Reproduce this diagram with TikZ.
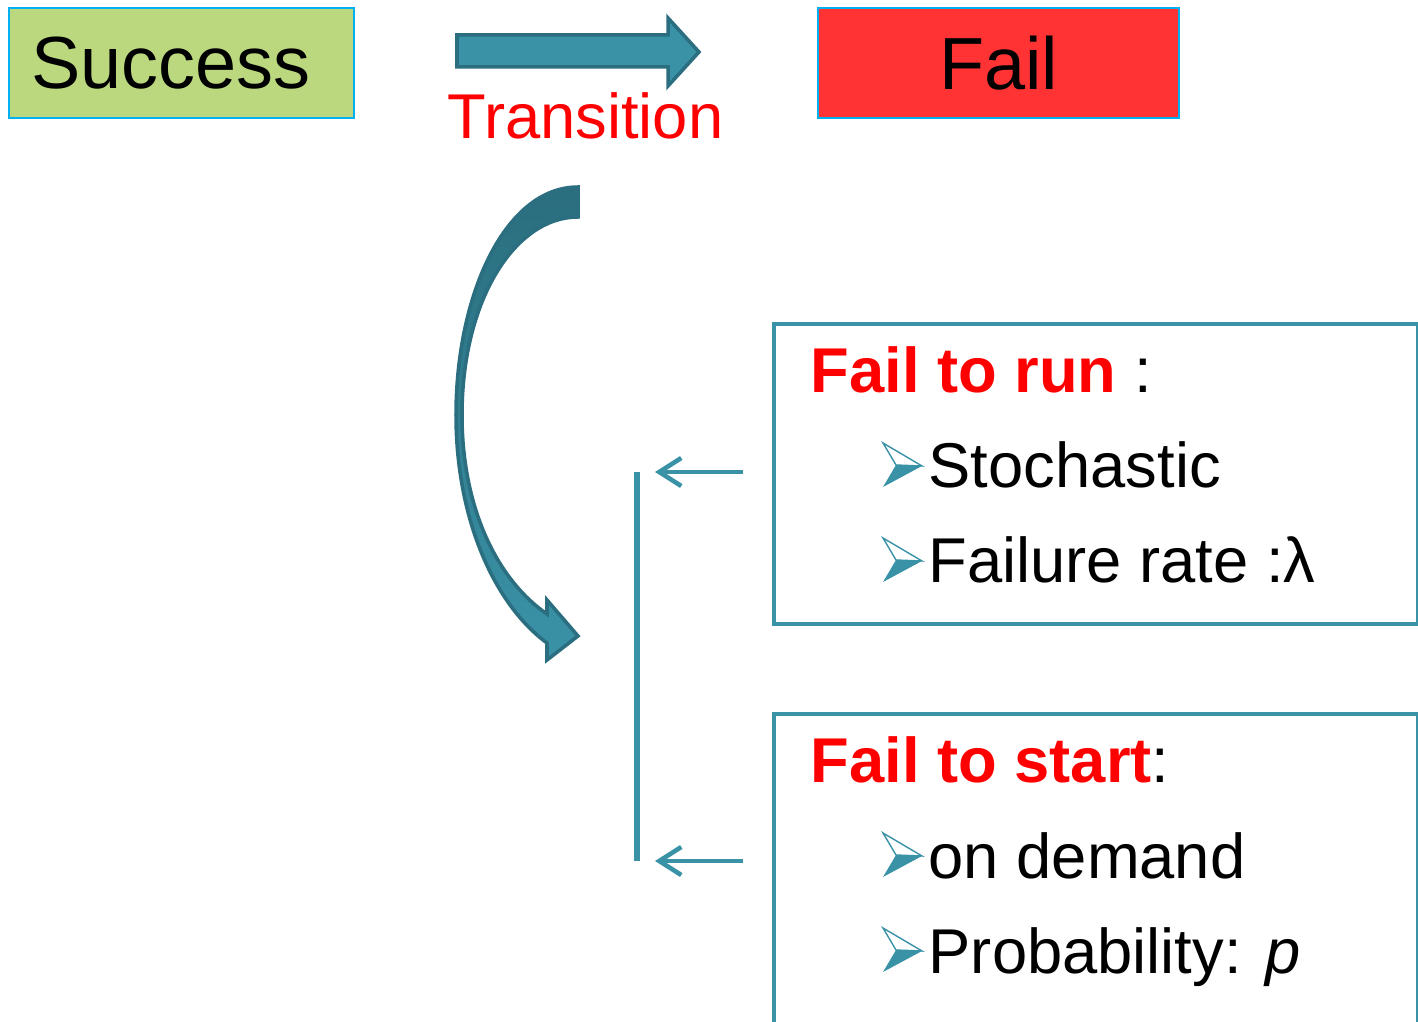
\documentclass[tikz,border=0pt]{standalone}
\usepackage{fontspec}
\setmainfont{Liberation Sans}
\usepackage{xcolor}
\usepackage{tikz}
\usetikzlibrary{arrows.meta}

\definecolor{boxgreen}{HTML}{BBD87E}
\definecolor{boxred}{HTML}{FF3333}
\definecolor{edgecyan}{HTML}{00B0F0}
\definecolor{teal}{HTML}{3A92A7}
\definecolor{tealdark}{HTML}{2A6E7F}
\definecolor{txtred}{HTML}{FF0000}

\tikzset{
	statebox/.style={draw=edgecyan, line width=0.6pt, anchor=north west, minimum height=1.1cm, inner ysep=0pt, font=\fontsize{21}{25}\selectfont},
	infobox/.style={draw=teal, line width=1.15pt, anchor=north west, minimum width=6.44cm},
	bigtext/.style={anchor=base west, inner sep=0pt, font=\fontsize{18}{22}\selectfont},
	backarrow/.style={draw=teal, line width=1.3pt, -{Straight Barb[length=2.2mm,width=2.8mm]}},
	bularrow/.pic={
		\draw[teal, line width=0.4pt, fill=white] (0,0) -- (39,23) -- (13,22) -- cycle;
		\fill[teal] (13,22) -- (39,23) -- (0,44) -- cycle;
	}
}

\begin{document}
\begin{tikzpicture}[x=0.01cm, y=-0.01cm]

	\clip (0,0) rectangle (1418,1022);

	\node[statebox, fill=boxgreen, text width=3.01cm, inner xsep=0.22cm] (success) at (8,7) {Success};
	\node[statebox, fill=boxred, minimum width=3.61cm] (fail) at (817,7) {Fail};

	\draw[fill=teal, draw=tealdark, line width=1pt] (457,35)--(668,35)--(668,18)--(699,52)--(668,86)--(668,67)--(457,67)--cycle;
	\node[bigtext, text=txtred] (transition) at (447,139) {Transition};

	\draw[top color=tealdark, bottom color=teal, draw=tealdark, line width=1pt]
		(578,187) .. controls (505,187) and (456,295) .. (456,415)
		.. controls (456,520) and (495,605) .. (547,643)
		-- (547,660) -- (578,636) -- (547,600) -- (547,614)
		.. controls (500,582) and (462,512) .. (462,415)
		.. controls (462,300) and (515,217) .. (578,217) -- cycle;

	\coordinate (bartop) at (637,472);
	\coordinate (barbot) at (637,861);
	\draw[teal, line width=1.6pt] (bartop) -- (barbot);

	\node[infobox, minimum height=3cm] (runbox) at (772,322) {};
	\node[infobox, minimum height=3.3cm] (startbox) at (772,712) {};

	\coordinate (runtail) at (743,472);
	\coordinate (runtip) at (655,472);
	\coordinate (starttail) at (743,861);
	\coordinate (starttip) at (655,861);
	\draw[backarrow] (runtail) -- (runtip);
	\draw[backarrow] (starttail) -- (starttip);

	\node[bigtext] (runhead) at (810,393) {\textcolor{txtred}{\textbf{Fail to run}} :};
	\pic at (883,443) {bularrow};
	\node[bigtext] (stoch) at (928,488) {Stochastic};
	\pic at (883,538) {bularrow};
	\node[bigtext] (rate) at (928,583) {Failure rate :λ};

	\node[bigtext] (starthead) at (810,783) {\textcolor{txtred}{\textbf{Fail to start}}:};
	\pic at (883,833) {bularrow};
	\node[bigtext] (demand) at (928,878) {on demand};
	\pic at (883,928) {bularrow};
	\node[bigtext] (prob) at (928,973) {Probability: \textit{p}};

\end{tikzpicture}
\end{document}
